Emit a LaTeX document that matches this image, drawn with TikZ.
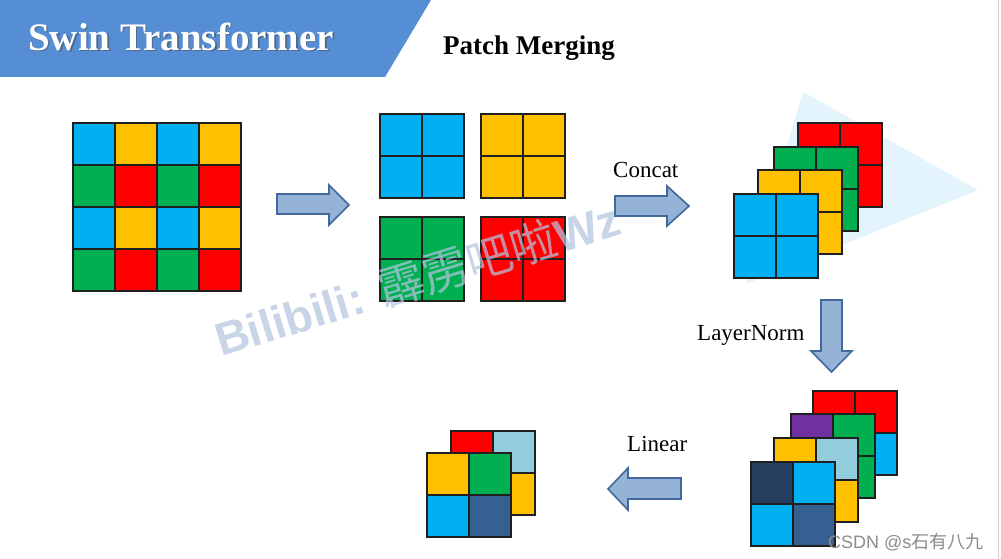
\documentclass[tikz,border=0pt]{standalone}
\usepackage{fontspec}
\setmainfont{Liberation Serif}
\newfontfamily\wmfont{Liberation Sans}
\newfontfamily\cjkfont{Noto Sans CJK SC}
\definecolor{cblue}{HTML}{00B0F0}
\definecolor{cyel}{HTML}{FFC000}
\definecolor{cgrn}{HTML}{00B050}
\definecolor{cred}{HTML}{FF0000}
\definecolor{cpur}{HTML}{7030A0}
\definecolor{clb}{HTML}{92CDDC}
\definecolor{cnavy}{HTML}{263E60}
\definecolor{csteel}{HTML}{376092}
\definecolor{band}{HTML}{558ED5}
\definecolor{arrfill}{HTML}{95B3D7}
\definecolor{arrdraw}{HTML}{41699C}
\definecolor{tri}{HTML}{E4F4FC}
\definecolor{wmcol}{RGB}{179,196,223}
\tikzset{
  gridline/.style={draw=black!88, line width=1.3pt},
  barrow/.style={fill=arrfill, draw=arrdraw, line width=1.6pt, line join=miter},
  lbl/.style={font=\fontsize{23}{26}\selectfont, inner sep=0pt, anchor=base west},
}
\newcommand\qb[7]{%
\begin{scope}[shift={(#1,#2)}]
\fill[#4] (0,0) rectangle ({#3/2},{#3/2});
\fill[#5] ({#3/2},0) rectangle (#3,{#3/2});
\fill[#6] (0,{#3/2}) rectangle ({#3/2},#3);
\fill[#7] ({#3/2},{#3/2}) rectangle (#3,#3);
\draw[gridline] (0,0) rectangle (#3,#3) ({#3/2},0) -- ({#3/2},#3) (0,{#3/2}) -- (#3,{#3/2});
\end{scope}}
\begin{document}
\begin{tikzpicture}[x=1pt,y=-1pt]
\useasboundingbox (0,0) rectangle (1001,559);
\fill[white] (0,0) rectangle (1001,559);
\draw[black!18, line width=1pt] (998,0) -- (998,559);
% title band
\fill[band] (0,0) -- (431,0) -- (385,77) -- (0,77) -- cycle;
\node[anchor=base west, inner sep=0pt, text=black!70, opacity=0.55, font=\bfseries\fontsize{39}{42}\selectfont] at (29.5,52) {Swin Transformer};
\node (title) [anchor=base west, inner sep=0pt, text=white, font=\bfseries\fontsize{39}{42}\selectfont] at (28,50.5) {Swin Transformer};
\node (sub) [anchor=base west, inner sep=0pt, font=\bfseries\fontsize{27}{30}\selectfont] at (443,55) {Patch Merging};
% 4x4 grid
\foreach \r in {0,1,2,3}{
  \foreach \c in {0,1,2,3}{
    \pgfmathtruncatemacro\re{mod(\r,2)}
    \pgfmathtruncatemacro\ce{mod(\c,2)}
    \ifnum\re=0 \ifnum\ce=0 \def\cc{cblue}\else\def\cc{cyel}\fi
    \else \ifnum\ce=0 \def\cc{cgrn}\else\def\cc{cred}\fi\fi
    \fill[\cc] ({73+42*\c},{123+42*\r}) rectangle ++(42,42);
  }}
\foreach \i in {1,2,3}{
  \draw[gridline] ({73+42*\i},123) -- ({73+42*\i},291);
  \draw[gridline] (73,{123+42*\i}) -- (241,{123+42*\i});
}
\draw[gridline] (73,123) rectangle (241,291);
% arrow 1
\draw[barrow] (277,194) -- (329,194) -- (329,185) -- (349,205) -- (329,225) -- (329,214) -- (277,214) -- cycle;
% four 2x2 blocks
\qb{380}{114}{84}{cblue}{cblue}{cblue}{cblue}
\qb{481}{114}{84}{cyel}{cyel}{cyel}{cyel}
\qb{380}{217}{84}{cgrn}{cgrn}{cgrn}{cgrn}
\qb{481}{217}{84}{cred}{cred}{cred}{cred}
% concat
\node (concat) [lbl] at (613,177) {Concat};
\draw[barrow] (615,196) -- (667,196) -- (667,186) -- (689,206) -- (667,226) -- (667,216) -- (615,216) -- cycle;
% triangle background
\fill[tri] (803,92) -- (978,190) -- (746,284) -- cycle;
% concat stack
\qb{798}{123}{84}{cred}{cred}{cred}{cred}
\qb{774}{147}{84}{cgrn}{cgrn}{cgrn}{cgrn}
\qb{758}{170}{84}{cyel}{cyel}{cyel}{cyel}
\qb{734}{194}{84}{cblue}{cblue}{cblue}{cblue}
% layernorm
\node (ln) [lbl] at (697,340) {LayerNorm};
\draw[barrow] (821,300) -- (842,300) -- (842,351) -- (852,351) -- (831.5,372) -- (811,351) -- (821,351) -- cycle;
\qb{813}{391}{84}{cred}{cred}{cblue}{cblue}
\qb{791}{414}{84}{cpur}{cgrn}{cgrn}{cgrn}
\qb{774}{438}{84}{cyel}{clb}{cyel}{cyel}
\qb{751}{462}{84}{cnavy}{cblue}{cblue}{csteel}
% linear
\node (lin) [lbl] at (627,451) {Linear};
\draw[barrow] (681,478) -- (628,478) -- (628,468) -- (608,489) -- (628,510) -- (628,499) -- (681,499) -- cycle;
\qb{451}{431}{84}{cred}{clb}{cyel}{cyel}
\qb{427}{453}{84}{cyel}{cgrn}{cblue}{csteel}
% watermark
\node (wm) [anchor=base west, inner sep=0pt, rotate=17, text=wmcol, text opacity=0.72, font=\fontsize{46}{50}\selectfont] at (221,357) {{\wmfont\bfseries Bilibili: }{\cjkfont 霹雳吧啦}{\wmfont\bfseries Wz}};
% csdn
\node (csdn) [anchor=base west, inner sep=0pt, text=black!45, font=\fontsize{18}{20}\selectfont] at (828,548) {{\wmfont CSDN @s}{\cjkfont 石有八九}};
\end{tikzpicture}
\end{document}
